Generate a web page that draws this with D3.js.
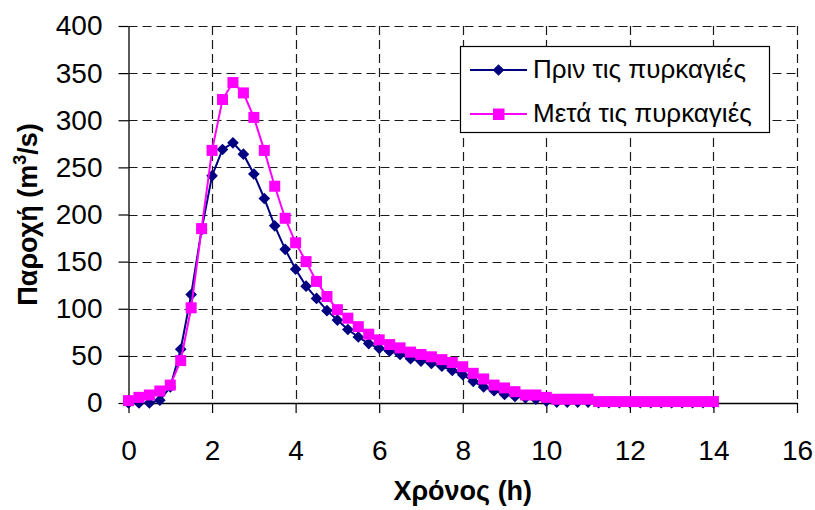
<!DOCTYPE html>
<html>
<head>
<meta charset="utf-8">
<script src="https://cdn.jsdelivr.net/npm/d3@7"></script>
<style>
  body { margin: 0; background: #fff; }
  svg { display: block; font-family: "Liberation Sans", Arial, sans-serif; }
</style>
</head>
<body>
<svg id="chart" width="815" height="510"></svg>
<script>
// Hydrograph: discharge (m3/s) at 15-minute steps, before and after the fires
const times = d3.range(0, 14.001, 0.25);

const before = [
  0, 0, 0, 3, 17, 57, 115, 184, 241, 269, 276, 264, 243, 217, 188, 163,
  142, 124, 111, 98, 88, 78, 70, 63, 58, 55, 51.5, 47, 44.5, 42, 39, 34.5,
  30, 23, 17, 13, 9, 7, 5.5, 4, 2, 1, 1, 1, 1, 0.3, 0.3, 0.3, 0.3, 0.3,
  0.3, 0.3, 0.3, 0.3, 0.3, 0.3, 0.3
];

const after = [
  2.5, 6, 8.5, 12.7, 19, 45, 101, 185, 268, 322, 340, 329, 303, 268, 230, 196,
  170, 150, 129, 113, 99, 90, 81, 73, 67, 62, 58.5, 54, 51.5, 49, 46, 43,
  38.5, 31.5, 25.5, 19, 16, 12, 8.5, 8.5, 6, 4, 4, 4, 4, 1.5, 1.5, 1.5, 1.5, 1.5,
  1.5, 1.5, 1.5, 1.5, 1.5, 1.5, 1.5
];

const seriesNames = ["Πριν τις πυρκαγιές", "Μετά τις πυρκαγιές"];
const xTicks = [0, 2, 4, 6, 8, 10, 12, 14, 16];
const yTicks = [0, 50, 100, 150, 200, 250, 300, 350, 400];
const xTitle = "Χρόνος (h)";

const svg = d3.select("#chart");
const plotL = 128.5, plotR = 797, plotT = 26, plotB = 403;

const x = d3.scaleLinear().domain([0, 16]).range([plotL, plotR]);
const y = d3.scaleLinear().domain([0, 400]).range([plotB, plotT]);

// dashed grid
const grid = svg.append("g").attr("stroke", "#1a1a1a").attr("stroke-width", 1.2)
  .attr("stroke-dasharray", "9,5");
grid.selectAll(".gy").data(yTicks.filter(d => d > 0)).join("line").attr("class", "gy")
  .attr("x1", plotL).attr("x2", plotR)
  .attr("y1", d => Math.round(y(d)) + 0.5).attr("y2", d => Math.round(y(d)) + 0.5);
grid.selectAll(".gx").data(xTicks.filter(d => d > 0)).join("line").attr("class", "gx")
  .attr("y1", plotT).attr("y2", plotB)
  .attr("x1", d => Math.round(x(d)) + 0.5).attr("x2", d => Math.round(x(d)) + 0.5);

// axes
const xAxis = svg.append("g").attr("transform", `translate(0,${plotB})`)
  .call(d3.axisBottom(x).tickValues(xTicks).tickSize(10).tickPadding(47).tickSizeOuter(0));
const yAxis = svg.append("g").attr("transform", `translate(${plotL},0)`)
  .call(d3.axisLeft(y).tickValues(yTicks).tickSize(10).tickPadding(16).tickSizeOuter(0));
[xAxis, yAxis].forEach(a => {
  a.select(".domain").attr("stroke", "#000").attr("stroke-width", 1.3);
  a.selectAll(".tick line").attr("stroke", "#000").attr("stroke-width", 1.2);
  a.selectAll("text").attr("font-size", 28).attr("fill", "#000")
    .attr("font-family", "'Liberation Sans', Arial, sans-serif");
});
xAxis.selectAll("text").attr("dy", "0");

// axis titles
svg.append("text").attr("x", (plotL + plotR) / 2).attr("y", 500).attr("text-anchor", "middle")
  .attr("font-size", 27).attr("font-weight", "bold").text(xTitle);
const yTitle = svg.append("text")
  .attr("transform", `translate(37,${(plotT + plotB) / 2}) rotate(-90)`)
  .attr("text-anchor", "middle").attr("font-size", 27).attr("font-weight", "bold");
yTitle.append("tspan").text("Παροχή (m");
yTitle.append("tspan").attr("font-size", 18).attr("dy", -11).text("3");
yTitle.append("tspan").attr("dy", 11).text("/s)");

const line = d3.line().x(d => x(d[0])).y(d => y(d[1]));

function drawSeries(values, color, shape) {
  const pts = times.map((t, i) => [t, values[i]]);
  const g = svg.append("g");
  g.append("path").datum(pts).attr("d", line)
    .attr("fill", "none").attr("stroke", color).attr("stroke-width", 2);
  if (shape === "diamond") {
    g.selectAll("path.m").data(pts).join("path").attr("class", "m")
      .attr("d", d3.symbol().type(d3.symbolSquare).size(68)())
      .attr("transform", d => `translate(${x(d[0])},${y(d[1])}) rotate(45)`)
      .attr("fill", color);
  } else {
    g.selectAll("rect").data(pts).join("rect")
      .attr("x", d => x(d[0]) - 5.5).attr("y", d => y(d[1]) - 5.5)
      .attr("width", 11).attr("height", 11).attr("fill", color);
  }
}

drawSeries(before, "#000080", "diamond");
drawSeries(after, "#ff00ff", "square");

// legend
const lg = svg.append("g");
lg.append("rect").attr("x", 460.5).attr("y", 46.5).attr("width", 309).attr("height", 86)
  .attr("fill", "#fff").attr("stroke", "#000").attr("stroke-width", 1.2);
const legendItems = [
  { name: seriesNames[0], color: "#000080", shape: "diamond", cy: 70, base: 77.5 },
  { name: seriesNames[1], color: "#ff00ff", shape: "square", cy: 114, base: 121.5 }
];
legendItems.forEach(it => {
  lg.append("line").attr("x1", 470).attr("x2", 527).attr("y1", it.cy).attr("y2", it.cy)
    .attr("stroke", it.color).attr("stroke-width", 2);
  if (it.shape === "diamond") {
    lg.append("path").attr("d", d3.symbol().type(d3.symbolSquare).size(68)())
      .attr("transform", `translate(498.5,${it.cy}) rotate(45)`).attr("fill", it.color);
  } else {
    lg.append("rect").attr("x", 493).attr("y", it.cy - 5.5).attr("width", 11.5).attr("height", 11.5)
      .attr("fill", it.color);
  }
  lg.append("text").attr("x", 533).attr("y", it.base).attr("font-size", 26)
    .attr("fill", "#000").text(it.name);
});
</script>
</body>
</html>
